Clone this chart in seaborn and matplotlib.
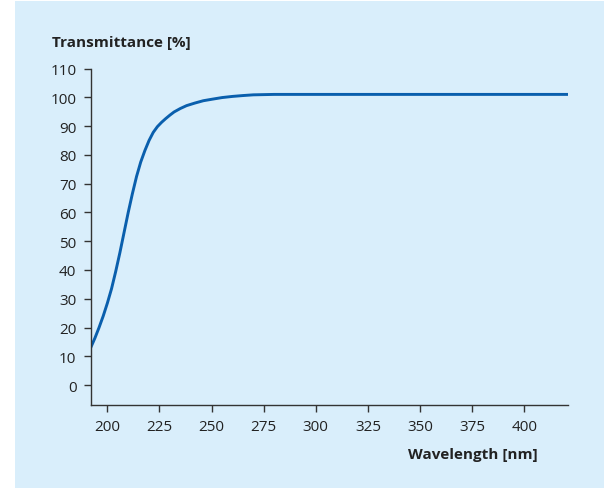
import matplotlib
matplotlib.use("Agg")
import matplotlib.pyplot as plt
import seaborn as sns
import pandas as pd
from matplotlib.patches import Rectangle

wavelength = [192, 194, 196, 198, 200, 202, 204, 206, 208, 210, 212, 214, 216,
              218, 220, 222, 224, 226, 228, 230, 232, 235, 238, 242, 246, 250,
              255, 260, 265, 270, 280, 300, 350, 400, 421]
transmittance = [13, 16.3, 20, 24, 28.5, 33.5, 39.5, 46, 53, 60, 66.5, 72.5, 77.5,
                 81.5, 85, 87.8, 89.8, 91.3, 92.6, 93.8, 94.9, 96.1, 97.1, 98.0, 98.8, 99.3,
                 99.9, 100.3, 100.6, 100.85, 101, 101, 101, 101, 101]
x_ticks = [200, 225, 250, 275, 300, 325, 350, 375, 400]
y_ticks = [0, 10, 20, 30, 40, 50, 60, 70, 80, 90, 100, 110]

df = pd.DataFrame({"wl": wavelength, "T": transmittance})

sns.set_style("ticks")
plt.rcParams['font.family'] = ['Open Sans', 'DejaVu Sans']

W, H = 609, 489
fig = plt.figure(figsize=(W / 100, H / 100), dpi=100)
fig.patch.set_facecolor("white")
bg = "#d9eefb"
rect = Rectangle((15 / W, 0), (604 - 15) / W, (489 - 2) / H,
                 transform=fig.transFigure, facecolor=bg,
                 edgecolor="none", zorder=-10)
fig.add_artist(rect)

ax = fig.add_axes([90.7 / W, 1 - 405.7 / H, (568 - 90.7) / W, (405.7 - 69.5) / H])
ax.set_zorder(5)
ax.set_facecolor("none")
sns.lineplot(data=df, x="wl", y="T", ax=ax, color="#0a5fad", linewidth=2.1)

ax.set_xlim(192, 421)
ax.set_ylim(-6.8, 110)
ax.set_xticks(x_ticks)
ax.set_yticks(y_ticks)
ax.set_xlabel("")
ax.set_ylabel("")
ax.tick_params(axis="both", direction="out", length=5.3, width=1.0,
               color="#333333", labelsize=11, labelcolor="#222222", pad=5)
for s in ["top", "right"]:
    ax.spines[s].set_visible(False)
for s in ["left", "bottom"]:
    ax.spines[s].set_color("#333333")
    ax.spines[s].set_linewidth(1.0)

t1 = fig.text(52 / W, 1 - 46.7 / H, "Transmittance [%]", fontsize=11, fontweight="bold",
              color="#222222", ha="left", va="baseline")
t2 = fig.text(538 / W, 1 - 459 / H, "Wavelength [nm]", fontsize=11, fontweight="bold",
              color="#222222", ha="right", va="baseline")
t1.set_zorder(10)
t2.set_zorder(10)

fig.savefig("out.png", dpi=100)
